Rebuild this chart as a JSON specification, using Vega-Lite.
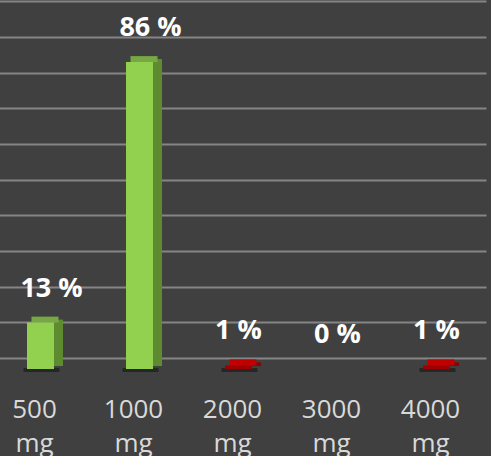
{
  "$schema": "https://vega.github.io/schema/vega-lite/v6.json",
  "width": 470,
  "height": 369,
  "autosize": {"type": "none"},
  "padding": {"left": 21, "top": 0, "right": 0, "bottom": 87},
  "background": "#404040",
  "config": {"view": {"stroke": null}},
  "data": {
    "values": [
      {"dose": "500 mg", "pct": 13, "label": "13 %"},
      {"dose": "1000 mg", "pct": 86, "label": "86 %"},
      {"dose": "2000 mg", "pct": 1, "label": "1 %"},
      {"dose": "3000 mg", "pct": 0, "label": "0 %"},
      {"dose": "4000 mg", "pct": 1, "label": "1 %"}
    ]
  },
  "encoding": {
    "x": {
      "field": "dose",
      "type": "nominal",
      "sort": ["500 mg", "1000 mg", "2000 mg", "3000 mg", "4000 mg"],
      "scale": {"range": [-30, 465], "paddingInner": 0, "paddingOuter": 0},
      "axis": {
        "title": null,
        "labelExpr": "split(datum.label, ' ')",
        "labelAngle": 0,
        "labelFont": "Open Sans",
        "labelFontSize": 26,
        "labelColor": "#d9d9d9",
        "labelLineHeight": 34,
        "labelPadding": 27,
        "labelOffset": -6,
        "ticks": false,
        "domain": false,
        "grid": false
      }
    },
    "y": {
      "field": "pct",
      "type": "quantitative",
      "scale": {"domain": [0, 103.4], "nice": false},
      "axis": {
        "values": [0, 10, 20, 30, 40, 50, 60, 70, 80, 90, 100],
        "tickOffset": -11,
        "labels": false,
        "ticks": false,
        "domain": false,
        "title": null,
        "grid": true,
        "gridColor": "#858585",
        "gridWidth": 2,
        "labelOverlap": false
      }
    }
  },
  "layer": [
    {
      "transform": [{"filter": "datum.pct > 0"}],
      "mark": {"type": "bar", "width": 36, "xOffset": 1, "yOffset": 3, "y2Offset": -1, "color": "#262626"},
      "encoding": {
        "y": {"datum": 0},
        "y2": {"datum": 0}
      }
    },
    {
      "transform": [{"filter": "datum.pct > 0"}],
      "mark": {"type": "bar", "width": 9, "xOffset": 18, "yOffset": -3, "y2Offset": -3},
      "encoding": {
        "y2": {"datum": 0},
        "color": {"condition": {"test": "datum.pct >= 5", "value": "#5f8b30"}, "value": "#8b0000"}
      }
    },
    {
      "transform": [{"filter": "datum.pct > 0"}],
      "mark": {"type": "bar", "width": 27, "xOffset": 4.5, "yOffset": -6, "y2Offset": 0},
      "encoding": {
        "y2": {"field": "pct"},
        "color": {"condition": {"test": "datum.pct >= 5", "value": "#77a843"}, "value": "#c00000"}
      }
    },
    {
      "transform": [{"filter": "datum.pct > 0"}],
      "mark": {"type": "bar", "width": 27},
      "encoding": {
        "y2": {"datum": 0},
        "color": {"condition": {"test": "datum.pct >= 5", "value": "#92d050"}, "value": "#a00000"}
      }
    },
    {
      "transform": [{"filter": "datum.pct >= 5"}],
      "mark": {"type": "text", "font": "Open Sans", "fontSize": 27, "fontWeight": "bold", "color": "#ffffff", "baseline": "alphabetic", "dy": -26, "dx": 11},
      "encoding": {
        "text": {"field": "label"}
      }
    },
    {
      "transform": [{"filter": "datum.pct < 5"}],
      "mark": {"type": "text", "font": "Open Sans", "fontSize": 27, "fontWeight": "bold", "color": "#ffffff", "baseline": "alphabetic", "dy": -26, "dx": 0},
      "encoding": {
        "text": {"field": "label"}
      }
    }
  ]
}
